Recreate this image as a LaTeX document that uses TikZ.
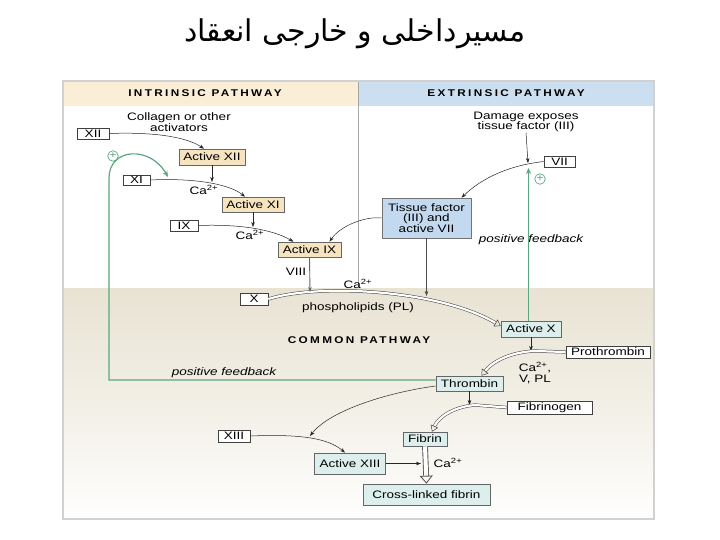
\documentclass[tikz,border=0pt]{standalone}
\usepackage{fontspec}
\usetikzlibrary{arrows.meta}
\TeXXeTstate=1
\setmainfont{Liberation Sans}[FakeStretch=1.25]
\newfontfamily\hdrfont{Liberation Sans}[FakeStretch=1.2,LetterSpace=24]
\newfontfamily\arabicfont[Script=Arabic]{DejaVu Sans}
\newcommand{\lblfont}{\fontsize{10.8}{11.8}\selectfont}
\newcommand{\hdrstyle}{\hdrfont\bfseries\fontsize{9.8}{11}\selectfont}
\definecolor{intr}{HTML}{FAEFD6}
\definecolor{extr}{HTML}{CCDFF0}
\definecolor{yelfill}{HTML}{F6E4C0}
\definecolor{tealfill}{HTML}{DCEFEC}
\definecolor{bluefill}{HTML}{C3D9EF}
\definecolor{fbgreen}{HTML}{5BA680}
\definecolor{commontop}{HTML}{E8E3D3}
\definecolor{commonmid}{HTML}{F2EFE6}
\tikzset{
  fbox/.style={draw=black!75, line width=0.6pt, fill=white, inner sep=0pt, font=\lblfont, align=center},
  ybox/.style={fbox, fill=yelfill, draw=black!60},
  tbox/.style={fbox, fill=tealfill, draw=black!60},
  bbox/.style={fbox, fill=bluefill, draw=black!55},
  lbl/.style={font=\lblfont, inner sep=0pt, align=center},
  hdr/.style={font=\hdrstyle, inner sep=0pt},
  conn/.style={line width=0.5pt, draw=black!85, -{Stealth[length=5pt,width=3.6pt]}},
  gconn/.style={line width=0.9pt, draw=black!60, -{Stealth[length=5pt,width=3.6pt]}},
  dbl/.style={draw=black!75, line width=0.5pt, double=white, double distance=2.2pt, -{Triangle[open,length=6pt,width=8pt]}},
  dblthick/.style={draw=black!65, line width=0.9pt, double=white, double distance=4pt, -{Triangle[open,length=8pt,width=13pt]}},
  green/.style={draw=fbgreen, line width=1.2pt},
  plus/.style={circle, draw=fbgreen, line width=0.7pt, minimum size=10.5pt, inner sep=0pt, text=fbgreen, font=\fontsize{10}{10}\selectfont}
}
\begin{document}
\begin{tikzpicture}[x=1pt,y=-1pt]
\useasboundingbox (0,0) rectangle (720,540);
% title
\node (title) at (355,34) {\arabicfont\fontsize{30}{34}\selectfont\beginR مسیرداخلی و خارجی انعقاد\endR};
% backgrounds
\fill[white] (63,81) rectangle (654,519);
\shade[top color=commontop, bottom color=white!97!commontop, middle color=commonmid] (63,288) rectangle (654,519);
\fill[intr] (63,81) rectangle (358,106);
\fill[extr] (358,81) rectangle (654,106);
\draw[black!35, line width=0.8pt] (358,81) -- (358,288);
\draw[black!18, line width=1.6pt] (63,81) rectangle (654,519);
% headers
\node[hdr] (hintr) at (205,93.5) {INTRINSIC PATHWAY};
\node[hdr] (hextr) at (506,93.5) {EXTRINSIC PATHWAY};
\node[hdr] (hcomm) at (359,340) {COMMON PATHWAY};
% intrinsic nodes
\node[lbl] (collagen) at (179,122) {Collagen or other\\[-1.5pt]activators};
\node[fbox, minimum width=32pt, minimum height=11pt] (xii) at (93,133.5) {XII};
\node[ybox, minimum width=66pt, minimum height=16pt] (axii) at (212,157) {Active XII};
\node[fbox, minimum width=27pt, minimum height=10pt] (xi) at (136.5,180) {XI};
\node[lbl] (ca1) at (204,190) {Ca\textsuperscript{2+}};
\node[ybox, minimum width=62pt, minimum height=15pt] (axi) at (253,204.5) {Active XI};
\node[fbox, minimum width=28pt, minimum height=11pt] (ix) at (184,225.5) {IX};
\node[lbl] (ca2) at (250,235) {Ca\textsuperscript{2+}};
\node[ybox, minimum width=63pt, minimum height=15pt] (aix) at (309.5,249.5) {Active IX};
\node[lbl] (viii) at (296,272) {VIII};
% extrinsic nodes
\node[lbl] (damage) at (526,122) {Damage exposes\\[-1pt]tissue factor (III)};
\node[fbox, minimum width=31pt, minimum height=11pt] (vii) at (559.5,161.5) {VII};
\node[plus] (plusr) at (540,179) {+};
\node[bbox, minimum width=89pt, minimum height=40pt] (tf) at (426.5,218) {Tissue factor\\[-1.5pt](III) and\\[-1.5pt]active VII};
\node[lbl, font=\lblfont\itshape] (pfr) at (531,240) {positive feedback};
% common nodes
\node[lbl] (ca3) at (358,284) {Ca\textsuperscript{2+}};
\node[fbox, minimum width=28pt, minimum height=12pt] (x) at (254,299) {X};
\node[lbl] (pl) at (358,308) {phospholipids (PL)};
\node[tbox, minimum width=60pt, minimum height=16pt] (ax) at (531,329) {Active X};
\node[fbox, minimum width=84pt, minimum height=12pt] (pro) at (608,352) {Prothrombin};
\node[lbl] (cav) at (535,373) {Ca\textsuperscript{2+},\\[-1pt]V, PL};
\node[tbox, minimum width=67pt, minimum height=15pt] (thr) at (469.5,383.5) {Thrombin};
\node[lbl, font=\lblfont\itshape] (pfl) at (224,373) {positive feedback};
\node[fbox, minimum width=85pt, minimum height=13pt] (fgn) at (549.5,407.5) {Fibrinogen};
\node[tbox, minimum width=44pt, minimum height=14pt] (fib) at (425,439) {Fibrin};
\node[fbox, minimum width=32pt, minimum height=12pt] (xiii) at (234,436) {XIII};
\node[tbox, minimum width=71pt, minimum height=21pt] (axiii) at (350,463.5) {Active XIII};
\node[lbl] (ca4) at (448,463) {Ca\textsuperscript{2+}};
\node[tbox, minimum width=127pt, minimum height=21pt] (cross) at (426.5,494.5) {Cross-linked fibrin};
\node[plus] (plusl) at (113,156) {+};
% coordinates
\coordinate (jxi) at (212,182);
\coordinate (jix) at (253,227);
\coordinate (jx1) at (310,292);
\coordinate (jx2) at (426.5,296);
\coordinate (jvii) at (528,163);
\coordinate (jpro) at (531,351);
\coordinate (jfgn) at (469.5,405);
\coordinate (jxiii) at (310,436);
\coordinate (jcross) at (421,463.5);
% intrinsic connectors
\draw[conn] (xii.east) .. controls (150,132) and (185,136) .. ([xshift=-8pt]axii.north);
\draw[conn] (axii.south) -- (jxi);
\draw[conn] (xi.east) .. controls (190,178) and (228,183) .. ([xshift=-8pt]axi.north);
\draw[conn] (axi.south) -- (jix);
\draw[conn] (ix.east) .. controls (238,224) and (272,229) .. ([xshift=-16pt]aix.north);
\draw[conn] (tf.west) .. controls (365,216) and (340,226) .. ([xshift=20pt]aix.north);
% extrinsic connectors
\draw[conn] (damage.south) -- (jvii);
\draw[conn] (vii.west) .. controls (505,166) and (480,180) .. ([xshift=35pt]tf.north);
% common connectors
\draw[dbl] (x.east) .. controls (320,283) and (440,290) .. ([yshift=3pt]ax.west);
\draw[gconn] (aix.south) -- (jx1);
\draw[line width=0.6pt, draw=black!70, -{Stealth[length=5pt,width=3.6pt]}] (tf.south) -- (jx2);
\draw[conn] (ax.south) -- (jpro);
\draw[dbl] (pro.west) -- (535,351) .. controls (510,352) and (492,362) .. ([xshift=12pt]thr.north);
\draw[conn] (thr.south) -- (jfgn);
\draw[dbl] (fgn.west) -- (475,405) .. controls (452,407) and (438,418) .. ([xshift=7pt]fib.north);
\draw[conn] ([yshift=-2.5pt]thr.west) .. controls (390,392) and (330,410) .. (jxiii);
\draw[conn] (xiii.east) .. controls (300,434) and (328,438) .. ([xshift=-5pt]axiii.north);
\draw[conn] (axiii.east) -- (jcross);
\draw[dblthick] (fib.south) -- (cross.north);
% positive feedback (green)
\draw[green, -{Stealth[length=6pt,width=5pt]}] (thr.west |- 0,380) -- (109,380) -- (109,178) .. controls (109,148) and (150,145) .. (168,177);
\draw[green, -{Stealth[length=6pt,width=5pt]}] (ax.north -| 528.5,0) -- (528.5,168);
\end{tikzpicture}
\end{document}
